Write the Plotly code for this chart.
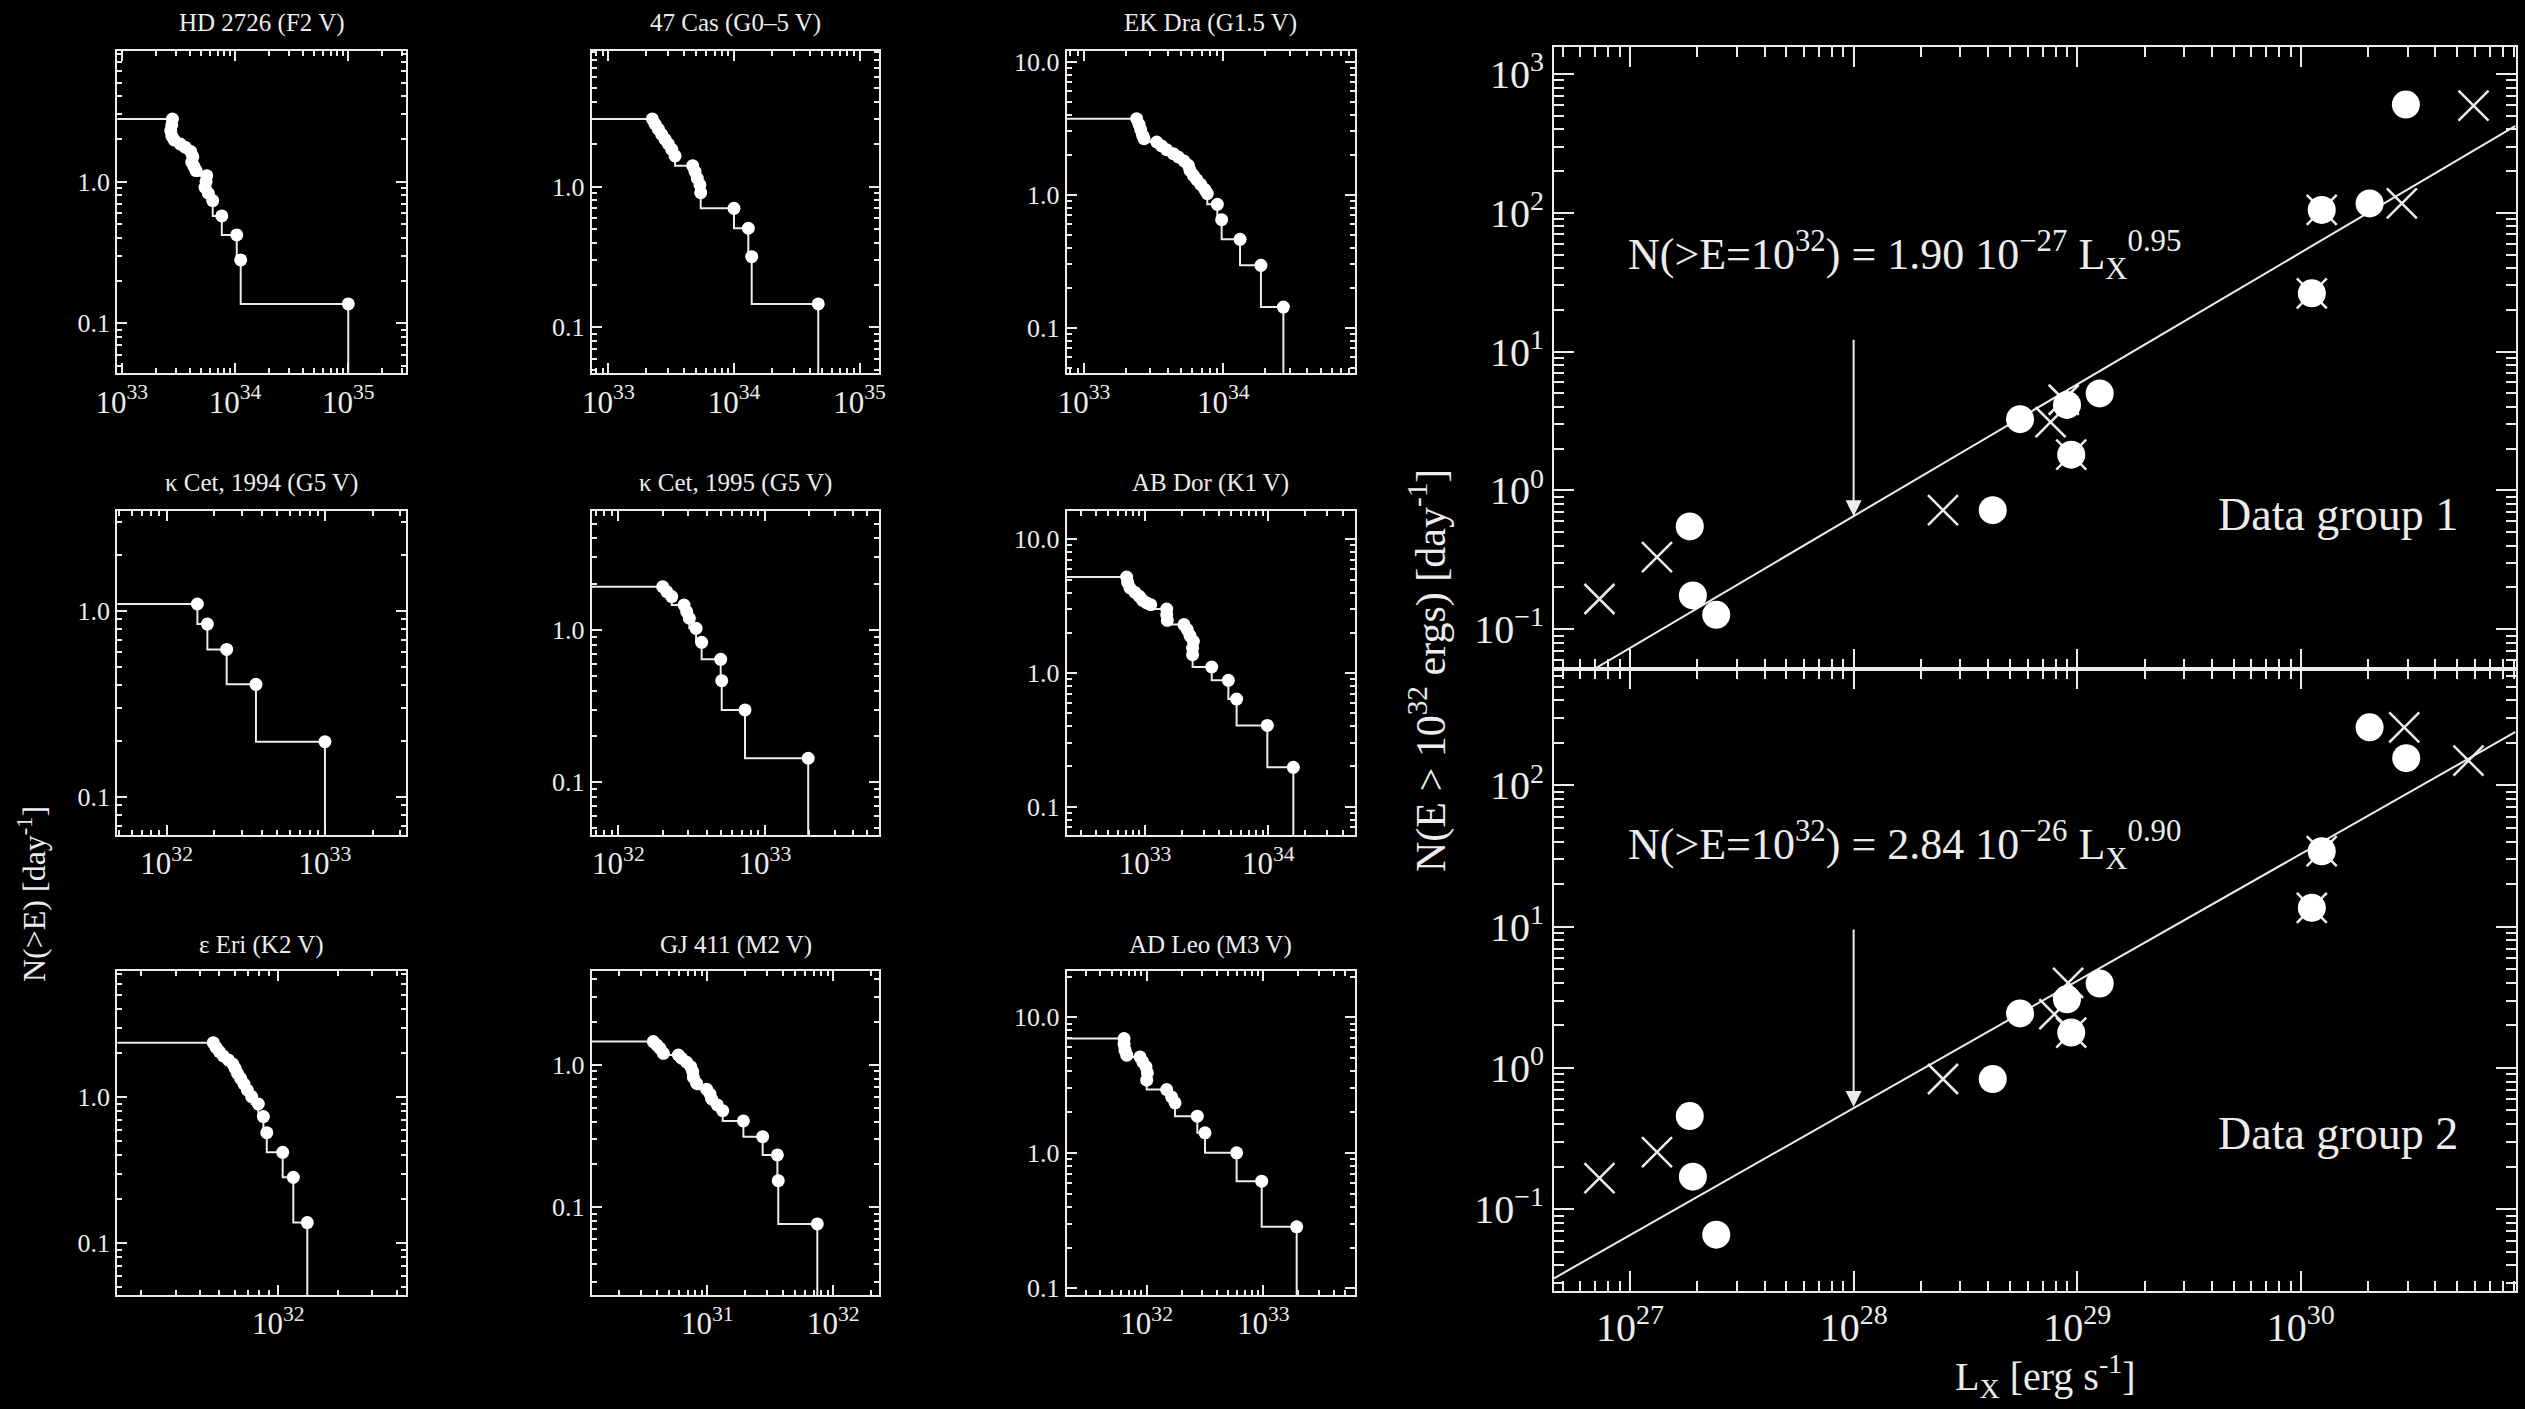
import math
import plotly.graph_objects as go

FONT = "Liberation Serif"
FG = "#ececec"

# ---------------- small panels: cumulative flare frequency distributions ----------------
panel_titles = ["HD 2726 (F2 V)", "47 Cas (G0\u20135 V)", "EK Dra (G1.5 V)",
                "\u03ba Cet, 1994 (G5 V)", "\u03ba Cet, 1995 (G5 V)", "AB Dor (K1 V)",
                "\u03b5 Eri (K2 V)", "GJ 411 (M2 V)", "AD Leo (M3 V)"]

# log10 of flare energy [erg] and log10 of N(>E) [day^-1]
hd2726_logE = [33.447, 33.441, 33.432, 33.441, 33.462, 33.515, 33.559, 33.609, 33.627, 33.618, 33.638,
               33.656, 33.750, 33.744, 33.735, 33.764, 33.803, 33.883, 34.015, 34.050, 35.000]
hd2726_logN = [0.442, 0.400, 0.360, 0.323, 0.294, 0.266, 0.243, 0.212, 0.176, 0.137, 0.106,
               0.078, 0.042, 0.000, -0.040, -0.082, -0.134, -0.242, -0.376, -0.553, -0.863]

cas47_logE = [33.350, 33.371, 33.398, 33.424, 33.451, 33.477, 33.504, 33.531, 33.671, 33.690, 33.708,
              33.729, 33.735, 34.000, 34.114, 34.141, 34.671]
cas47_logN = [0.481, 0.445, 0.408, 0.372, 0.336, 0.303, 0.265, 0.218, 0.149, 0.107, 0.059,
              0.012, -0.043, -0.154, -0.296, -0.498, -0.834]

ekdra_logE = [33.378, 33.395, 33.407, 33.421, 33.431, 33.522, 33.557, 33.593, 33.641, 33.677, 33.718,
              33.749, 33.761, 33.785, 33.809, 33.837, 33.868, 33.885, 33.957, 33.988, 34.120, 34.270, 34.431]
ekdra_logN = [0.571, 0.529, 0.489, 0.446, 0.421, 0.396, 0.366, 0.338, 0.308, 0.283, 0.253,
              0.221, 0.183, 0.145, 0.113, 0.078, 0.038, 0.008, -0.073, -0.188, -0.336, -0.531, -0.845]

kcet94_logE = [32.194, 32.257, 32.379, 32.564, 33.000]
kcet94_logN = [0.036, -0.072, -0.208, -0.396, -0.704]

kcet95_logE = [32.302, 32.330, 32.364, 32.448, 32.466, 32.484, 32.530, 32.568, 32.698, 32.705, 32.864, 33.295]
kcet95_logN = [0.284, 0.252, 0.219, 0.164, 0.120, 0.077, 0.011, -0.081, -0.193, -0.333, -0.525, -0.842]

abdor_logE = [32.851, 32.859, 32.878, 32.919, 32.954, 32.981, 33.014, 33.046, 33.176, 33.176, 33.181,
              33.316, 33.343, 33.365, 33.392, 33.386, 33.386, 33.541, 33.676, 33.743, 33.992, 34.203]
abdor_logN = [0.718, 0.678, 0.636, 0.603, 0.574, 0.544, 0.524, 0.511, 0.479, 0.436, 0.394,
              0.362, 0.324, 0.279, 0.237, 0.187, 0.137, 0.045, -0.055, -0.195, -0.392, -0.706]

eeri_logE = [31.669, 31.683, 31.700, 31.720, 31.746, 31.768, 31.780, 31.792, 31.808, 31.825, 31.842,
             31.864, 31.898, 31.924, 31.941, 32.022, 32.076, 32.147]
eeri_logN = [0.374, 0.342, 0.313, 0.283, 0.256, 0.228, 0.199, 0.164, 0.130, 0.091, 0.050,
             0.005, -0.046, -0.132, -0.242, -0.377, -0.548, -0.858]

gj411_logE = [30.571, 30.598, 30.624, 30.651, 30.770, 30.796, 30.836, 30.868, 30.884, 30.889, 30.915,
              30.995, 31.021, 31.034, 31.079, 31.122, 31.286, 31.439, 31.556, 31.563, 31.873]
gj411_logN = [0.164, 0.141, 0.117, 0.082, 0.070, 0.047, 0.019, -0.012, -0.047, -0.087, -0.129,
              -0.171, -0.204, -0.239, -0.281, -0.321, -0.393, -0.504, -0.632, -0.813, -1.117]

adleo_logE = [31.806, 31.806, 31.814, 31.829, 31.943, 31.966, 31.994, 32.006, 32.000, 32.171, 32.214,
              32.243, 32.434, 32.500, 32.771, 32.986, 33.286]
adleo_logN = [0.844, 0.802, 0.758, 0.721, 0.708, 0.672, 0.635, 0.590, 0.536, 0.467, 0.413,
              0.369, 0.271, 0.148, 0.000, -0.209, -0.546]

panel_logE = [hd2726_logE, cas47_logE, ekdra_logE, kcet94_logE, kcet95_logE, abdor_logE,
              eeri_logE, gj411_logE, adleo_logE]
panel_logN = [hd2726_logN, cas47_logN, ekdra_logN, kcet94_logN, kcet95_logN, abdor_logN,
              eeri_logN, gj411_logN, adleo_logN]

# axis ranges (log10 units) of the small panels
panel_xrange = [[32.96, 35.51], [32.867, 35.157], [32.876, 34.945],
                [31.688, 33.512], [31.818, 33.78], [32.365, 34.703],
                [31.181, 32.649], [30.082, 32.365], [31.314, 33.786]]
panel_yrange = [[-1.353, 0.922], [-1.327, 0.964], [-1.343, 1.080],
                [-1.206, 0.536], [-1.346, 0.781], [-1.212, 1.212],
                [-1.354, 0.865], [-1.616, 0.660], [-1.049, 1.342]]

small_ytick_vals = [0.1, 1.0, 10.0]
small_ytick_text = ["0.1", "1.0", "10.0"]
small_xtick_exp = [30, 31, 32, 33, 34, 35, 36]

# ---------------- right panels: N(E>1e32) vs Lx ----------------
g1_circle_L = [2.95e30, 1.24e30, 2.03e30, 1.12e30, 5.55e28, 9.0e28, 1.26e29, 9.4e28, 4.19e28, 1.85e27, 1.91e27, 2.43e27]
g1_circle_N = [603, 105, 117, 26.3, 3.26, 4.13, 5.0, 1.81, 0.72, 0.55, 0.175, 0.127]
g1_cross_L = [5.92e30, 2.83e30, 7.6e28, 8.7e28, 9.4e28, 1.24e30, 1.12e30, 2.51e28, 1.32e27, 7.3e26]
g1_cross_N = [593, 117, 3.1, 4.5, 1.81, 105, 26.3, 0.72, 0.33, 0.165]

g2_circle_L = [2.03e30, 2.96e30, 1.24e30, 1.12e30, 5.55e28, 9.0e28, 1.26e29, 9.4e28, 4.19e28, 1.85e27, 1.91e27, 2.43e27]
g2_circle_N = [258, 156, 34.2, 13.6, 2.43, 3.06, 3.96, 1.78, 0.835, 0.456, 0.17, 0.066]
g2_cross_L = [2.90e30, 5.62e30, 1.24e30, 1.12e30, 7.9e28, 9.1e28, 9.4e28, 2.51e28, 1.32e27, 7.3e26]
g2_cross_N = [258, 150, 34.2, 13.6, 2.4, 4.0, 1.78, 0.835, 0.254, 0.166]

# fitted power laws, end points
fit1_L = [4.57e26, 9.12e30]
fit1_N = [0.0348, 423.0]
fit2_L = [4.57e26, 9.12e30]
fit2_N = [0.0324, 239.0]

arrow_L = 1e28
arrow1_N = [12.5, 0.65]
arrow2_N = [9.8, 0.53]

right_xtick_exp = [26, 27, 28, 29, 30, 31]
right_ytick_exp = [-2, -1, 0, 1, 2, 3]

# ---------------- layout geometry ----------------
W, H = 2525, 1409
cols_px = [(117.3, 406.0), (591.7, 879.3), (1066.7, 1355.0)]
rows_px = [(51.0, 373.3), (511.0, 835.0), (971.0, 1295.0)]
title_px = [23, 483, 945]


def px_x(v):
    return v / W


def px_y(v):
    return 1 - v / H


def minor_vals(lo, hi):
    out = []
    for k in range(lo, hi):
        for d in range(2, 10):
            out.append(d * 10.0 ** k)
    return out


fig = go.Figure()
layout = dict(
    width=W, height=H,
    paper_bgcolor="black", plot_bgcolor="black",
    margin=dict(l=0, r=0, t=0, b=0, pad=0, autoexpand=False),
    showlegend=False,
    font=dict(family=FONT, color=FG, size=25),
)
annotations = []

for i in range(9):
    n = i + 1
    r, c = divmod(i, 3)
    xs = "x" if n == 1 else f"x{n}"
    ys = "y" if n == 1 else f"y{n}"
    E = [10 ** v for v in panel_logE[i]]
    N = [10 ** v for v in panel_logN[i]]
    x_left = 10 ** (panel_xrange[i][0] - 1)
    step_x = [x_left] + E + [E[-1]]
    step_y = [N[0]] + N + [1e-4]
    fig.add_trace(go.Scatter(x=step_x, y=step_y, mode="lines", line=dict(color=FG, width=2, shape="vh"),
                             xaxis=xs, yaxis=ys, hoverinfo="skip"))
    fig.add_trace(go.Scatter(x=E, y=N, mode="markers", marker=dict(color="white", size=13, line=dict(width=0)),
                             xaxis=xs, yaxis=ys))
    x0, x1 = cols_px[c]
    y0, y1 = rows_px[r]
    common = dict(type="log", showline=True, linecolor=FG, linewidth=2, mirror="allticks",
                  ticks="inside", ticklen=10, tickwidth=2, tickcolor=FG, showgrid=False, zeroline=False,
                  tickmode="array", automargin=False)
    layout[f"xaxis{n}"] = dict(common, domain=[px_x(x0), px_x(x1)], anchor=ys, range=panel_xrange[i],
                               tickvals=[10.0 ** k for k in small_xtick_exp],
                               ticktext=[f"10<sup>{k}</sup>" for k in small_xtick_exp],
                               tickfont=dict(family=FONT, size=31, color=FG),
                               minor=dict(ticks="inside", ticklen=5, tickwidth=1.5, tickcolor=FG,
                                          tickmode="array", tickvals=minor_vals(29, 37), showgrid=False))
    layout[f"yaxis{n}"] = dict(common, domain=[px_y(y1), px_y(y0)], anchor=xs, range=panel_yrange[i],
                               tickvals=small_ytick_vals, ticktext=small_ytick_text,
                               tickfont=dict(family=FONT, size=26, color=FG),
                               minor=dict(ticks="inside", ticklen=5, tickwidth=1.5, tickcolor=FG,
                                          tickmode="array", tickvals=minor_vals(-3, 2), showgrid=False))
    annotations.append(dict(text=panel_titles[i], xref="paper", yref="paper",
                            x=px_x((x0 + x1) / 2), y=px_y(title_px[r]), xanchor="center", yanchor="middle",
                            showarrow=False, font=dict(family=FONT, size=25, color=FG)))

# left y-axis title
annotations.append(dict(text="N(&gt;E) [day<sup>-1</sup>]", xref="paper", yref="paper",
                        x=px_x(32), y=px_y(894), xanchor="center", yanchor="middle", textangle=-90,
                        showarrow=False, font=dict(family=FONT, size=32, color=FG)))

# ---------------- right panels ----------------
RX0, RX1 = 1554.0, 2515.5
RY_TOP, RY_MID, RY_BOT = 47.0, 668.6, 1290.7

groups = [
    (10, g1_circle_L, g1_circle_N, g1_cross_L, g1_cross_N, fit1_L, fit1_N, [26.66, 30.96], [-1.284, 3.195],
     (RY_TOP, RY_MID)),
    (11, g2_circle_L, g2_circle_N, g2_cross_L, g2_cross_N, fit2_L, fit2_N, [26.66, 30.96], [-1.577, 2.827],
     (RY_MID, RY_BOT)),
]
for (n, cL, cN, xL, xN, fL, fN, xr, yr, (ya, yb)) in groups:
    xs, ys = f"x{n}", f"y{n}"
    fig.add_trace(go.Scatter(x=fL, y=fN, mode="lines", line=dict(color=FG, width=2), xaxis=xs, yaxis=ys))
    fig.add_trace(go.Scatter(x=xL, y=xN, mode="markers",
                             marker=dict(symbol="x-thin", size=30, line=dict(width=2.5, color=FG)),
                             xaxis=xs, yaxis=ys))
    fig.add_trace(go.Scatter(x=cL, y=cN, mode="markers",
                             marker=dict(symbol="circle", size=28, color="white", line=dict(width=0)),
                             xaxis=xs, yaxis=ys))
    common = dict(type="log", showline=True, linecolor=FG, linewidth=2, mirror="allticks",
                  ticks="inside", ticklen=20, tickwidth=2, tickcolor=FG, showgrid=False, zeroline=False,
                  tickmode="array", automargin=False)
    layout[f"xaxis{n}"] = dict(common, domain=[px_x(RX0), px_x(RX1)], anchor=ys, range=xr,
                               tickvals=[10.0 ** k for k in right_xtick_exp],
                               ticktext=[f"10<sup>{k}</sup>" for k in right_xtick_exp],
                               showticklabels=(n == 11),
                               tickfont=dict(family=FONT, size=40, color=FG),
                               minor=dict(ticks="inside", ticklen=10, tickwidth=1.5, tickcolor=FG,
                                          tickmode="array", tickvals=minor_vals(26, 31), showgrid=False))
    layout[f"yaxis{n}"] = dict(common, domain=[px_y(yb), px_y(ya)], anchor=xs, range=yr,
                               tickvals=[10.0 ** k for k in right_ytick_exp],
                               ticktext=[f"10<sup>{'\u2212' if k < 0 else ''}{abs(k)}</sup>" for k in right_ytick_exp],
                               tickfont=dict(family=FONT, size=40, color=FG),
                               minor=dict(ticks="inside", ticklen=10, tickwidth=1.5, tickcolor=FG,
                                          tickmode="array", tickvals=minor_vals(-2, 4), showgrid=False))

# arrows at Lx = 1e28
for n, arr in ((10, arrow1_N), (11, arrow2_N)):
    annotations.append(dict(x=math.log10(arrow_L), y=math.log10(arr[1]),
                            ax=math.log10(arrow_L), ay=math.log10(arr[0]),
                            xref=f"x{n}", yref=f"y{n}", axref=f"x{n}", ayref=f"y{n}",
                            text="", showarrow=True, arrowhead=2, arrowsize=1.6, arrowwidth=2,
                            arrowcolor=FG))

# equations
annotations.append(dict(text="N(&gt;E=10<sup>32</sup>) = 1.90 10<sup>\u221227</sup> L<sub>X</sub><sup>0.95</sup>",
                        xref="paper", yref="paper", x=px_x(1626), y=px_y(255), xanchor="left", yanchor="middle",
                        showarrow=False, font=dict(family=FONT, size=44, color=FG)))
annotations.append(dict(text="N(&gt;E=10<sup>32</sup>) = 2.84 10<sup>\u221226</sup> L<sub>X</sub><sup>0.90</sup>",
                        xref="paper", yref="paper", x=px_x(1626), y=px_y(845), xanchor="left", yanchor="middle",
                        showarrow=False, font=dict(family=FONT, size=44, color=FG)))
annotations.append(dict(text="Data group 1", xref="paper", yref="paper", x=px_x(2460), y=px_y(515),
                        xanchor="right", yanchor="middle", showarrow=False,
                        font=dict(family=FONT, size=46, color=FG)))
annotations.append(dict(text="Data group 2", xref="paper", yref="paper", x=px_x(2460), y=px_y(1133),
                        xanchor="right", yanchor="middle", showarrow=False,
                        font=dict(family=FONT, size=46, color=FG)))
# right axis titles
annotations.append(dict(text="N(E &gt; 10<sup>32</sup> ergs) [day<sup>-1</sup>]", xref="paper", yref="paper",
                        x=px_x(1428), y=px_y(670), xanchor="center", yanchor="middle", textangle=-90,
                        showarrow=False, font=dict(family=FONT, size=42, color=FG)))
annotations.append(dict(text="L<sub>X</sub> [erg s<sup>-1</sup>]", xref="paper", yref="paper",
                        x=px_x(2045), y=px_y(1376), xanchor="center", yanchor="middle",
                        showarrow=False, font=dict(family=FONT, size=40, color=FG)))

layout["annotations"] = annotations
fig.update_layout(**layout)
fig.write_html("out.html")
